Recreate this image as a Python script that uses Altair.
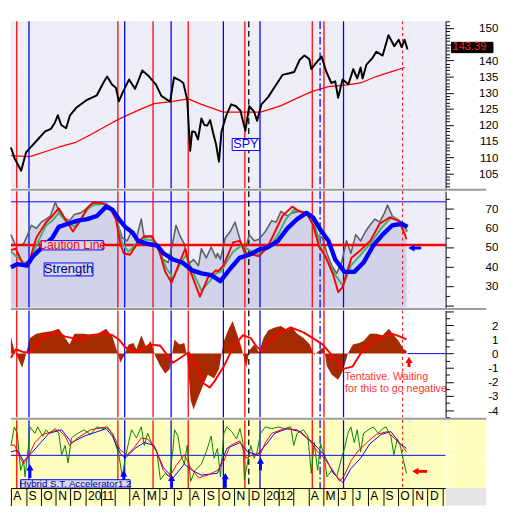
import altair as alt
import pandas as pd

FONT = "Liberation Sans"
START = pd.Timestamp("2010-08-01")
W = 448
H1, H2, H3, H4 = 172, 120, 110, 70
EXT = 490

# ---------------- data (x = day offset from START) ----------------
price_day = [0,8,21,31,43,55,70,82,90,96,103,113,121,135,156,176,189,197,207,215,
             221,228,242,254,262,269,283,297,308,318,326,334,344,353,
             361,367,371,377,383,390,396,402,408,414,420,426,431,441,451,461,470,480,488,498,504,513,527,539,
             556,570,580,591,601,611,615,625,636,646,656,664,670,679,691,701,709,716,720,728,740,748,761,773,785,794,
             800,806,812]
price_val = [113,109.5,105.8,111.5,113.5,115.5,118,118.8,120.7,123,120,119,123,125.5,127.8,129.2,133,135,132.5,131.5,
             127.3,129.8,134.1,131.2,134.1,136.9,135,132.5,129,128,127.2,134.7,134,133,
             127.8,112,118,117.8,115.5,122,120,119.8,121.5,117.5,114,108.6,117.8,123,126.4,125.8,124.4,118.2,125.8,124.1,121.3,126.4,128.7,131.5,
             135.5,136,136.4,140.1,141.5,140.4,137.3,139.2,141.2,136.4,133,133.5,128.4,134.1,132.6,137.3,134.4,137.8,134.4,138.7,140.7,142.7,141.5,147.8,144.4,146.4,
             144.1,146.4,143.4]
last_price = 143.39
ma_day = [0,39,98,131,162,195,221,260,293,328,363,390,435,480,511,552,586,617,650,681,716,748,781,806]
ma_val = [110.5,110.2,113.1,114.5,116.9,119.7,121.8,124.5,126.6,127.2,128.1,126.4,124,124,124,125.9,128.3,130.4,131.9,132.3,133,135,136.6,137.8]

sb_day = [0,13,33,45,65,85,98,117,137,156,176,195,208,221,234,250,260,280,299,312,
          332,351,371,390,410,429,449,468,488,508,527,547,566,586,605,619,634,650,664,683,
          703,722,742,761,781,800,812]
sb_val = [39.6,41.2,40.4,45.2,50,54.8,60.4,62,63.6,64.4,66,70.8,69.2,64.4,60.4,57.2,53.2,51.6,50.8,46.8,
          43.6,42,38,36.4,35.5,32.4,38.8,44.4,46,48.7,50,53.2,59.6,64.4,67.6,65.2,58.8,53.2,43.6,37.2,
          37.2,42,50.8,56.4,61.2,62,60.4]
sr_day = [0,10,26,39,52,72,85,98,111,127,140,156,169,189,202,215,224,231,244,260,273,289,303,316,329,345,357,368,387,403,420,
          424,435,455,468,482,508,527,541,556,576,590,605,619,631,644,660,670,679,697,716,736,755,775,794,804,810]
sr_val = [48.4,49.2,40.4,43.6,54.8,62.8,66,70,64.4,58,62.8,70,73.2,72.4,70.8,64.4,51.6,46.8,46,52.4,55.6,55.6,48.4,37.2,31.6,42,49.2,37.2,24.4,34,38,
          37.5,40.4,52.4,53.2,46.8,45.2,50.8,58,66,70.8,68.4,67.6,61.2,50,45.2,35.6,26.8,29.2,44.4,48.4,53.2,62,65.2,63.6,58,54]
sg_day = [0,26,39,55,72,85,98,114,130,143,159,169,195,208,218,228,241,257,273,293,306,319,332,348,359,371,390,407,420,
          429,455,472,488,508,530,547,563,579,605,621,634,647,664,680,696,716,738,758,781,800,812]
sg_val = [47.6,42,42,52.4,61.2,63.6,67.6,62.8,60.4,64.4,70,71.6,72.4,69.2,62.8,51.6,47.6,51.6,54,53.2,46.8,38.8,34,42,46,38,27.6,32.4,36.4,
          37.2,47.6,50.8,48.4,46,50,56.4,64.4,69.2,67.6,62.8,50,43.6,35.6,30,40.4,46,52.4,59.6,66,62.8,58]
sk_day = [0,10,26,33,42,52,62,72,81,91,98,107,120,130,143,156,166,182,195,208,
          218,228,238,247,257,267,273,286,299,312,322,332,338,348,355,364,374,384,390,400,410,420,
          423,429,439,449,459,468,478,488,498,508,521,534,543,553,566,576,592,605,615,625,638,647,657,667,
          677,687,696,706,716,726,735,745,755,765,771,781,791,800,810]
sk_val = [56.4,50.8,51.6,55.6,61.2,59.6,62.8,64.4,66,73.2,68.4,65.2,63.6,66.8,67.6,70,72.4,72.4,72.4,67.6,
          62.8,54.8,53.2,58,54.8,64.4,54.8,55.6,51.6,43.6,42,53.2,61.2,54.8,51.6,41.2,43.6,40.4,49.2,44.4,50,44.4,
          46.8,43.6,54.8,58,62.8,54.8,46.8,56.4,53.2,54,58,63.6,62.8,68.4,66,67.6,68.4,66.8,64.4,56.4,54.8,46.8,40.4,36.4,
          42,53.2,46.8,56.4,53.2,58,61.2,64.4,62.8,67.6,71.6,66,63.6,62.8,58]

hist_day = [0,7,13,23,29,39,52,65,85,98,111,120,130,150,169,182,195,208,218,224,
            231,241,251,257,267,277,286,296,306,316,325,335,345,355,361,368,374,384,394,403,
            416,426,436,446,454,462,472,482,488,498,508,517,527,540,553,566,576,586,599,612,
            621,634,641,647,657,670,680,690,700,713,722,735,748,761,774,784,794,804,810]
hist_val = [1.2,0.2,-0.2,-1,-0.3,1.1,1.4,1.5,1.6,1.75,1.1,0.65,1.4,1.4,1.3,1.5,1.75,1.2,0.1,-0.65,
            -0.2,0.65,0.75,0.3,1.3,0.45,0.9,-0.2,-0.9,-1.4,-1.1,1,0.65,0.75,-0.2,-3.3,-3.95,-3.05,-2.2,-1.5,
            -1.75,-1.1,0.9,1.75,2.3,1.5,0.45,-1,0.2,0.65,0.1,1.1,1.65,1.85,1.95,1.65,1.85,1.4,1.1,0.65,
            -0.1,0.3,0.45,-0.9,-1.5,-1.85,-1.2,0,0.65,0.75,0.9,1.4,1.4,1.3,1.75,1.3,0.9,0.3,0.2]
hr_day = [0,10,26,39,52,72,94,111,143,163,189,208,221,234,257,286,306,322,332,351,
          364,377,394,407,416,436,455,475,491,504,514,527,547,573,599,618,638,657,680,700,
          716,735,761,781,797,810]
hr_val = [-0.3,0.3,0.1,0.1,0.65,1.3,1.5,1.2,1,1.3,1.4,1.3,1,0.45,0.1,0.65,0.55,-0.2,-0.65,-0.2,
          0.1,-0.75,-2.1,-2.4,-2,-0.9,0.45,1.3,1.1,0.45,0.2,0.75,1.4,1.85,1.5,1.1,0.65,-0.1,-1.1,-0.9,
          0,0.75,1.2,1.4,1.2,1]

ag_day = [0,7,13,20,26,29,36,39,49,55,65,72,78,91,98,104,111,117,124,137,
          150,163,176,189,198,208,221,228,234,241,247,257,267,273,280,290,299,306,316,325,
          332,335,342,348,355,361,368,377,390,400,410,416,423,429,436,442,452,462,469,475,
          478,485,491,498,504,511,521,534,547,560,573,579,586,599,608,615,621,628,634,641,
          647,657,667,677,683,690,696,703,709,716,722,732,742,752,761,768,778,784,791,797,804,810]
ag_val = [-33,-1,-12,-76,-60,-87,-33,-1,-12,-1,-17,-6,-12,-4,-12,-49,-33,-63,-20,-12,
          -6,-14,-1,-4,-1,-14,-49,-87,-55,-28,-6,-20,-1,-33,-12,-33,-44,-92,-81,-87,
          -38,-6,-17,-49,-65,-33,-95,-76,-65,-44,-17,-55,-38,-87,-12,-1,-9,-22,-4,-28,
          -92,-60,-33,-55,-44,-12,-1,-4,-1,-4,-1,-33,-12,-6,-17,-81,-28,-76,-30,-49,
          -87,-76,-87,-55,-38,-12,-1,-28,-6,-44,-12,-6,-1,-12,-4,-1,-17,-49,-22,-33,-60,-81]
ar_day = [0,7,16,26,36,49,65,85,98,111,120,137,163,195,208,224,238,251,267,280,
          296,312,325,338,355,368,384,403,423,436,449,469,482,495,511,521,534,560,586,612,
          628,641,657,673,683,696,709,729,748,771,787,800,810]
ar_val = [-33,-32,-49,-65,-52,-28,-14,-9,-6,-17,-33,-20,-6,-1,-12,-41,-49,-38,-20,-22,
          -38,-76,-87,-68,-49,-71,-89,-84,-76,-60,-33,-25,-55,-49,-47,-28,-12,-4,-6,-25,
          -44,-55,-73,-95,-84,-60,-44,-28,-14,-9,-22,-33,-44]
ab_day = [0,13,26,39,59,78,104,124,150,195,208,224,234,254,273,293,312,332,355,371,
          390,423,442,469,485,504,521,540,566,592,618,641,660,680,696,716,735,758,778,797,810]
ab_val = [-44,-41,-60,-49,-30,-12,-6,-28,-17,-4,-17,-47,-55,-38,-28,-33,-71,-89,-65,-76,
          -84,-81,-38,-28,-44,-49,-33,-12,-4,-9,-28,-49,-81,-97,-73,-55,-30,-14,-9,-30,-38]

# vertical signal lines
vline_dates = ["2010-08-13","2010-09-07","2011-03-08","2011-03-22","2011-05-19","2011-06-25",
               "2011-07-30","2011-10-10","2011-11-23","2011-12-01","2011-12-24","2012-04-09",
               "2012-04-25","2012-05-03","2012-06-12","2012-10-11"]
vline_style = ["red","blue","red","blue","red","blue","red","blue","red","blackdash","blue","red",
               "bluedashdot","red","blue","reddot"]
STY = ["red","blue","blackdash","bluedashdot","reddot"]
STY_COL = ["#ff0000","#0000ff","#000000","#0000ff","#ff0000"]
STY_DASH = [[1,0],[1,0],[6,4],[8,3,2,3],[3,3]]
STY_W = {"red":1.3,"blue":1.3,"blackdash":1.3,"bluedashdot":1.3,"reddot":1}

# annotation positions (day offsets / values)
up_arrow_day = [39, 231, 329, 439, 511]
up_arrow_head = [-70.6, -81, -89, -86, -59]
up_arrow_tail = [-89, -95, -106, -106, -76]

# ---------------- helpers ----------------
def ts(days):
    return START + pd.to_timedelta(days, unit="D")

def frame(days, vals):
    return pd.DataFrame({"date": ts(days), "v": vals})

ONE = pd.DataFrame({"k": [0]})
XSC = alt.Scale(domain=[alt.DateTime(year=2010, month=8, date=1),
                        alt.DateTime(year=2013, month=1, date=7)])

def xe(axis):
    return alt.X("date:T", scale=XSC, axis=axis, title=None)

def ye(dom, axis, field="v"):
    return alt.Y(f"{field}:Q", scale=alt.Scale(domain=dom, nice=False, zero=False), axis=axis, title=None)

def yaxis(values, lab_test, major_test, color="black", lab_color="black", z=1):
    return alt.Axis(orient="right", values=values, title=None, grid=False,
                    labelExpr=f"({lab_test}) ? '' + datum.value : ''",
                    tickSize={"condition": {"test": major_test, "value": 8}, "value": 4},
                    tickColor=color, domainColor=color, labelColor=lab_color,
                    labelAlign="right", labelPadding=46, labelFont=FONT, labelFontSize=12,
                    labelOverlap=False, labelFlush=False, labelBound=False, zindex=z)

vdf = pd.DataFrame({"date": pd.to_datetime(vline_dates), "style": vline_style,
                    "w": [STY_W[s] for s in vline_style]})

def vrules(xax):
    return alt.Chart(vdf).mark_rule().encode(
        x=xe(xax),
        color=alt.Color("style:N", scale=alt.Scale(domain=STY, range=STY_COL), legend=None),
        strokeDash=alt.StrokeDash("style:N", scale=alt.Scale(domain=STY, range=STY_DASH), legend=None),
        size=alt.Size("w:Q", scale=None, legend=None))

def line(days, vals, dom, ax, color, width, xax=None):
    return alt.Chart(frame(days, vals)).mark_line(color=color, strokeWidth=width, strokeJoin="round").encode(
        x=xe(xax), y=ye(dom, ax))

def box(d1, d2, v1, v2, dom, ax, fill, stroke, xax=None):
    df = pd.DataFrame({"date": ts([d1]), "date2": ts([d2]), "v": [v1], "v2": [v2]})
    return alt.Chart(df).mark_rect(fill=fill, stroke=stroke, strokeWidth=1).encode(
        x=xe(xax), x2="date2:T", y=ye(dom, ax), y2="v2:Q")

def label(d, v, txt, dom, ax, color, size, align="center", xax=None, **kw):
    df = pd.DataFrame({"date": ts([d]), "v": [v], "t": [txt]})
    return alt.Chart(df).mark_text(font=FONT, fontSize=size, color=color, align=align,
                                   baseline="middle", **kw).encode(
        x=xe(xax), y=ye(dom, ax), text="t:N")

def separator():
    return alt.Chart(ONE).mark_rule(color="#9c9c9c", strokeWidth=2).encode(
        x=alt.value(0), x2=alt.value(EXT), y=alt.value(-1.5))

def vert_arrow(days, heads, tails, dom, ax, color, xax=None):
    df = pd.DataFrame({"date": ts(days), "v": heads, "v2": tails})
    shaft = alt.Chart(df).mark_rule(color=color, strokeWidth=3).encode(
        x=xe(xax), y=ye(dom, ax), y2="v2:Q")
    head = alt.Chart(df).mark_point(shape="triangle-up", filled=True, color=color, size=55, opacity=1).encode(
        x=xe(xax), y=ye(dom, ax))
    return [shaft, head]

def horiz_arrow(head_day, tail_day, v, dom, ax, color, xax=None):
    df = pd.DataFrame({"date": ts([head_day]), "date2": ts([tail_day]), "v": [v]})
    shaft = alt.Chart(df).mark_rule(color=color, strokeWidth=3).encode(
        x=xe(xax), x2="date2:T", y=ye(dom, ax))
    head = alt.Chart(df).mark_point(shape="triangle-left", filled=True, color=color, size=55, opacity=1).encode(
        x=xe(xax), y=ye(dom, ax))
    return [shaft, head]

# ---------------- panel 1: SPY ----------------
D1 = [100.4, 152.1]
A1 = yaxis(list(range(101, 153)), "datum.value % 5 == 0 && datum.value != 145", "datum.value % 5 == 0", z=0)
p1 = alt.layer(
    line(ma_day, ma_val, D1, A1, "#ff0000", 1.3),
    vrules(None),
    line(price_day, price_val, D1, A1, "#000000", 2),
    box(453, 509, 112.1, 115.8, D1, A1, "#ffffff", "#0000ff"),
    label(481, 113.95, "SPY", D1, A1, "#0000ff", 13),
    box(902, 987, 142.4, 145.6, D1, A1, "#000000", "#000000"),
    label(904, 144.0, f"{last_price:.4f}", D1, A1, "#ff2020", 11.5, align="left", limit=41, ellipsis="\u200b"),
).properties(width=W, height=H1, view=alt.ViewBackground(fill="#eeeef8", stroke=None))

# ---------------- panel 2: Strength ----------------
D2 = [18.8, 78.8]
A2 = yaxis(list(range(20, 80, 5)), "datum.value % 10 == 0 && datum.value >= 30", "datum.value % 10 == 0")
hdf2 = pd.DataFrame({"v": [73.3]})
cdf2 = pd.DataFrame({"v": [51]})
area2 = alt.Chart(frame(sk_day, sk_val)).mark_area(color="#d2d2ea", opacity=1).encode(
    x=xe(None), y=ye(D2, A2), y2=alt.datum(D2[0]))
p2 = alt.layer(
    area2,
    alt.Chart(hdf2).mark_rule(color="#0000ff", strokeWidth=1).encode(y=ye(D2, A2)),
    vrules(None),
    line(sk_day, sk_val, D2, A2, "#606060", 1.6),
    alt.Chart(cdf2).mark_rule(color="#ff0000", strokeWidth=2.5).encode(y=ye(D2, A2)),
    line(sg_day, sg_val, D2, A2, "#3cb371", 2),
    line(sr_day, sr_val, D2, A2, "#ff0000", 2),
    line(sb_day, sb_val, D2, A2, "#0000ff", 4.5),
    box(62, 189, 48.5, 53.3, D2, A2, "#d6d6ee", "#0000ff"),
    label(125.5, 50.9, "Caution Line", D2, A2, "#ff0000", 12.5),
    box(68, 168, 35.1, 41.8, D2, A2, "#d6d6ee", "#0000ff"),
    label(118, 38.4, "Strength", D2, A2, "#000080", 13.5),
    *horiz_arrow(820, 840, 49.5, D2, A2, "#0000ff"),
    separator(),
).properties(width=W, height=H2, view=alt.ViewBackground(fill="#eeeef8", stroke=None))

# ---------------- panel 3: histogram ----------------
D3 = [-4.5, 3.05]
A3 = yaxis([x / 2 for x in range(-9, 7)],
           "abs(datum.value - round(datum.value)) < 0.01 && datum.value <= 2 && datum.value >= -4",
           "abs(datum.value - round(datum.value)) < 0.01")
zdf3 = pd.DataFrame({"date": ts([812]), "date2": ts([890]), "v": [0]})
p3 = alt.layer(
    alt.Chart(frame(hist_day, hist_val)).mark_area(color="#a52a00", opacity=1).encode(
        x=xe(None), y=ye(D3, A3)),
    vrules(None),
    line(hr_day, hr_val, D3, A3, "#ff0000", 2),
    alt.Chart(zdf3).mark_rule(color="#0000ff", strokeWidth=1).encode(x=xe(None), x2="date2:T", y=ye(D3, A3)),
    *vert_arrow([815], [-0.45], [-0.95], D3, A3, "#ff0000"),
    label(683, -1.69, "Tentative. Waiting", D3, A3, "#ff3333", 11, align="left"),
    label(684, -2.54, "for this to go negative", D3, A3, "#ff3333", 11, align="left"),
    separator(),
).properties(width=W, height=H3, view=alt.ViewBackground(fill="#ffffff", stroke=None))

# ---------------- panel 4: accelerator ----------------
D4 = [-106.4, 10.7]
A4 = yaxis([0, -12.5, -25, -37.5, -50, -62.5, -75, -87.5, -100], "datum.value == -50",
           "datum.value % 50 == 0", color="#ffffff", lab_color="#ffffff")
XAX = alt.Axis(orient="bottom", tickCount={"interval": "month", "step": 1}, grid=False, title=None,
               tickSize=18, tickColor="#000000", domainColor="#000000", labelColor="#000000",
               labelPadding=-16, labelAlign="left", labelBaseline="top", labelOffset=2,
               labelFont=FONT, labelFontSize=12.5, labelOverlap=False, labelFlush=False, labelBound=False,
               zindex=1,
               labelExpr="year(datum.value) >= 2013 ? '' : month(datum.value) == 0 ? timeFormat(datum.value, '%Y') : "
                         "(month(datum.value) == 1 || month(datum.value) == 2) ? '' : "
                         "slice(timeFormat(datum.value, '%b'), 0, 1)")
hdf4 = pd.DataFrame({"v": [-50]})
p4 = alt.layer(
    alt.Chart(ONE).mark_rect(color="#ffffc0").encode(
        x=alt.value(W), x2=alt.value(EXT), y=alt.value(0), y2=alt.value(H4)),
    alt.Chart(ONE).mark_rect(color="#ffffc0").encode(
        x=alt.value(0), x2=alt.value(W), y=alt.value(H4), y2=alt.value(H4 + 18)),
    alt.Chart(ONE).mark_rect(color="#e6e6e6").encode(
        x=alt.value(W), x2=alt.value(EXT), y=alt.value(H4), y2=alt.value(H4 + 18)),
    alt.Chart(hdf4).mark_rule(color="#0000ff", strokeWidth=1).encode(y=ye(D4, A4)),
    vrules(XAX),
    line(ag_day, ag_val, D4, A4, "#008000", 1, XAX),
    line(ab_day, ab_val, D4, A4, "#0000ff", 1, XAX),
    line(ar_day, ar_val, D4, A4, "#ff0000", 1, XAX),
    *vert_arrow(up_arrow_day, up_arrow_head, up_arrow_tail, D4, A4, "#0000ff", XAX),
    *horiz_arrow(828, 852, -77.6, D4, A4, "#ff0000", XAX),
    box(20, 244, -92, -106.4, D4, A4, "#d8d8f4", "#0000ff", XAX),
    label(132, -99.2, "Hybrid S.T. Accelerator1.2", D4, A4, "#000080", 10, xax=XAX),
    separator(),
).properties(width=W, height=H4, view=alt.ViewBackground(fill="#ffffc0", stroke=None))

chart = alt.vconcat(p1, p2, p3, p4, spacing=3).properties(
    bounds="flush",
    padding={"left": 0, "top": 0, "right": 0, "bottom": 0}
).configure_view(stroke=None).configure(background="#ffffff")

chart.save("out.html", embed_options={"renderer": "svg", "actions": False})
